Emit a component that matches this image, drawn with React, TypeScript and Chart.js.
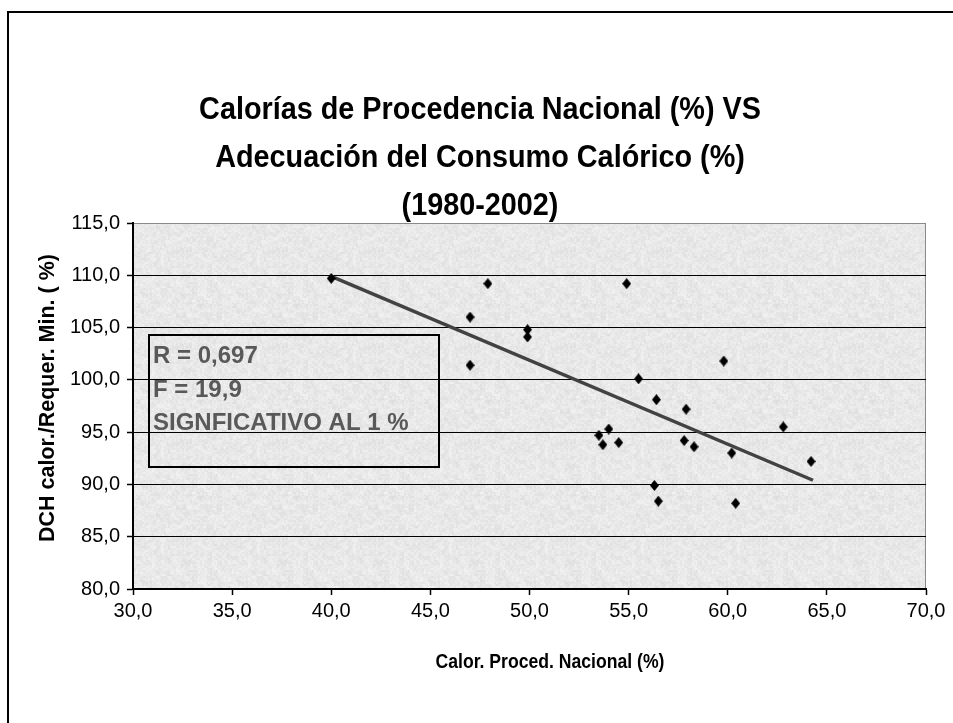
import React, { useEffect, useRef } from 'react';
import { Chart, registerables } from 'chart.js';

Chart.register(...registerables);

const TITLE_LINES = [
  'Calorías de Procedencia Nacional (%) VS',
  'Adecuación del Consumo Calórico (%)',
  '(1980-2002)',
];
const X_TITLE = 'Calor. Proced. Nacional (%)';
const Y_TITLE = 'DCH calor./Requer. Min. ( %)';
const STAT_LINES = ['R = 0,697', 'F = 19,9', 'SIGNFICATIVO AL 1 %'];

// Calor. Proced. Nacional (%) — one value per year 1980-2002
const nationalCalories = [
  40.0, 47.9, 47.0, 49.9, 49.9, 47.0, 54.9, 59.8, 55.5, 56.4, 57.9, 62.8,
  54.0, 53.5, 53.7, 54.5, 57.8, 58.3, 60.2, 64.2, 56.3, 56.5, 60.4,
];
// DCH calor./Requer. Min. (%)
const calorieAdequacy = [
  109.7, 109.2, 106.0, 104.8, 104.1, 101.4, 109.2, 101.8, 100.1, 98.1, 97.2, 95.5,
  95.3, 94.7, 93.8, 94.0, 94.2, 93.6, 93.0, 92.2, 89.9, 88.4, 88.2,
];
// linear trend line end points
const trendX = [40.0, 64.3];
const trendY = [109.9, 90.4];

const X_MIN = 30;
const X_MAX = 70;
const X_STEP = 5;
const Y_MIN = 80;
const Y_MAX = 115;
const Y_STEP = 5;

const SANS = '"Liberation Sans", Arial, Helvetica, sans-serif';

function makeDiamond(w: number, h: number, color: string): HTMLCanvasElement {
  const c = document.createElement('canvas');
  c.width = w;
  c.height = h;
  const g = c.getContext('2d')!;
  g.fillStyle = color;
  g.beginPath();
  g.moveTo(w / 2, 0);
  g.lineTo(w, h / 2);
  g.lineTo(w / 2, h);
  g.lineTo(0, h / 2);
  g.closePath();
  g.fill();
  return c;
}

function makeTexture(): HTMLCanvasElement {
  const size = 96;
  const c = document.createElement('canvas');
  c.width = size;
  c.height = size;
  const g = c.getContext('2d')!;
  const img = g.createImageData(size, size);
  const hash = (x: number, y: number) => {
    const v = Math.sin(x * 12.9898 + y * 78.233) * 43758.5453;
    return v - Math.floor(v);
  };
  for (let y = 0; y < size; y++) {
    for (let x = 0; x < size; x++) {
      const n =
        hash(Math.floor(x / 2), Math.floor(y / 2)) * 0.6 +
        hash(Math.floor(x / 5) + 31, Math.floor(y / 5) + 17) * 0.4;
      const v = Math.round(222 + n * 20);
      const i = (y * size + x) * 4;
      img.data[i] = v;
      img.data[i + 1] = v;
      img.data[i + 2] = v;
      img.data[i + 3] = 255;
    }
  }
  g.putImageData(img, 0, 0);
  return c;
}

const fmt = (v: number) => v.toFixed(1).replace('.', ',');

// draw text horizontally condensed (narrow face look)
function condensedText(ctx: CanvasRenderingContext2D, text: string, x: number, y: number, sx: number) {
  ctx.save();
  ctx.translate(x, y);
  ctx.scale(sx, 1);
  ctx.fillText(text, 0, 0);
  ctx.restore();
}

export default function App() {
  const ref = useRef<HTMLCanvasElement | null>(null);

  useEffect(() => {
    if (!ref.current) return;

    const diamond = makeDiamond(9, 11, '#000000');
    const texture = makeTexture();

    const overlay = {
      id: 'overlay',
      beforeDraw(chart: any) {
        const { ctx, chartArea: a } = chart;
        ctx.save();
        const pat = ctx.createPattern(texture, 'repeat');
        ctx.fillStyle = pat || '#e6e6e6';
        ctx.fillRect(a.left, a.top, a.right - a.left, a.bottom - a.top);
        ctx.strokeStyle = '#8a8a8a';
        ctx.lineWidth = 1;
        ctx.strokeRect(a.left + 0.5, a.top + 0.5, a.right - a.left - 1, a.bottom - a.top - 1);
        ctx.restore();
      },
      afterDraw(chart: any) {
        const { ctx } = chart;
        ctx.save();
        // chart title
        ctx.fillStyle = '#000000';
        ctx.font = `bold 32px ${SANS}`;
        ctx.textAlign = 'center';
        ctx.textBaseline = 'middle';
        const centers = [110, 158, 206];
        TITLE_LINES.forEach((t, i) => condensedText(ctx, t, 480, centers[i], 0.9));

        // x axis title
        ctx.font = `bold 20px ${SANS}`;
        condensedText(ctx, X_TITLE, 550, 662, 0.88);

        // y axis title
        ctx.save();
        ctx.translate(48, 398);
        ctx.rotate(-Math.PI / 2);
        ctx.font = `bold 21.5px ${SANS}`;
        ctx.fillText(Y_TITLE, 0, 0);
        ctx.restore();

        // statistics box
        ctx.strokeStyle = '#000000';
        ctx.lineWidth = 2;
        ctx.strokeRect(149, 335, 290, 132);
        ctx.fillStyle = '#595959';
        ctx.font = `bold 24px ${SANS}`;
        ctx.textAlign = 'left';
        ctx.textBaseline = 'alphabetic';
        const bases = [363, 397, 430];
        STAT_LINES.forEach((t, i) => ctx.fillText(t, 153, bases[i]));
        ctx.restore();
      },
    };

    const points = nationalCalories.map((x, i) => ({ x, y: calorieAdequacy[i] }));
    const trend = trendX.map((x, i) => ({ x, y: trendY[i] }));

    const chart = new Chart(ref.current, {
      type: 'scatter',
      data: {
        datasets: [
          {
            label: 'DCH',
            data: points,
            pointStyle: diamond as any,
            pointRadius: 5,
            pointHoverRadius: 5,
            order: 1,
          },
          {
            type: 'line',
            label: 'Tendencia',
            data: trend,
            borderColor: '#424242',
            borderWidth: 3.5,
            pointRadius: 0,
            fill: false,
            showLine: true,
            order: 2,
          } as any,
        ],
      },
      options: {
        animation: false,
        responsive: false,
        devicePixelRatio: 1,
        events: [],
        layout: { padding: { left: 10, right: 27, top: 223, bottom: 10 } },
        plugins: {
          legend: { display: false },
          title: { display: false },
          tooltip: { enabled: false },
        },
        scales: {
          x: {
            type: 'linear',
            min: X_MIN,
            max: X_MAX,
            afterFit: (s: any) => {
              s.height = 124;
            },
            ticks: {
              stepSize: X_STEP,
              color: '#000000',
              font: { family: SANS, size: 20 },
              padding: 4,
              maxRotation: 0,
              callback: (v: any) => fmt(Number(v)),
            },
            grid: {
              drawOnChartArea: false,
              drawTicks: true,
              tickLength: 6,
              tickColor: '#000000',
              tickWidth: 1.5,
            },
            border: { display: true, color: '#000000', width: 2 },
            title: { display: false, text: X_TITLE },
          },
          y: {
            type: 'linear',
            min: Y_MIN,
            max: Y_MAX,
            afterFit: (s: any) => {
              s.width = 123;
            },
            ticks: {
              stepSize: Y_STEP,
              color: '#000000',
              font: { family: SANS, size: 20 },
              padding: 7,
              callback: (v: any) => fmt(Number(v)),
            },
            grid: {
              drawOnChartArea: true,
              drawTicks: true,
              tickLength: 6,
              tickColor: '#000000',
              tickWidth: 1.5,
              lineWidth: 1,
              color: (c: any) => (c.tick && c.tick.value === Y_MAX ? '#8a8a8a' : '#000000'),
            },
            border: { display: true, color: '#000000', width: 2 },
            title: { display: false, text: Y_TITLE },
          },
        },
      },
      plugins: [overlay],
    });

    return () => chart.destroy();
  }, []);

  return (
    <div
      style={{
        position: 'fixed',
        left: 0,
        top: 0,
        width: 953,
        height: 723,
        overflow: 'hidden',
        background: '#ffffff',
      }}
    >
      <div
        style={{
          position: 'absolute',
          left: 7,
          top: 11,
          width: 1000,
          height: 1000,
          borderLeft: '2px solid #000000',
          borderTop: '2px solid #000000',
        }}
      />
      <canvas
        ref={ref}
        width={953}
        height={723}
        style={{ position: 'absolute', left: 0, top: 0, width: 953, height: 723 }}
      />
    </div>
  );
}
